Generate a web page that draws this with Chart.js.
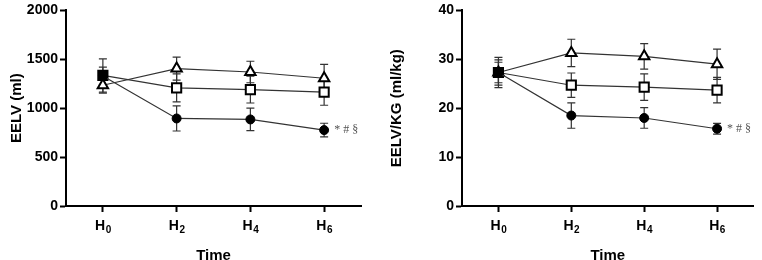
<!DOCTYPE html>
<html>
<head>
<meta charset="utf-8">
<script src="https://cdn.jsdelivr.net/npm/chart.js@4.4.1/dist/chart.umd.min.js"></script>
<style>
  html, body { margin: 0; padding: 0; background: #fff; }
  .wrap { position: relative; width: 762px; height: 260px; }
  #left { position: absolute; left: 0; top: 0; }
  #right { position: absolute; left: 380px; top: 0; }
</style>
</head>
<body>
<div class="wrap">
  <canvas id="left" width="380" height="260"></canvas>
  <canvas id="right" width="382" height="260"></canvas>
</div>
<script>
// time points, written as letter + subscript
const times = ["H0", "H2", "H4", "H6"];

// EELV (ml)
const eelvTriangle = [1235, 1405, 1370, 1306];
const eelvTriangleErr = [80, 118, 110, 143];
const eelvSquare = [1335, 1207, 1190, 1165];
const eelvSquareErr = [170, 143, 137, 135];
const eelvCircle = [1330, 895, 885, 776];
const eelvCircleErr = [90, 128, 115, 70];

// EELV/KG (ml/kg)
const kgTriangle = [27.3, 31.3, 30.6, 29.0];
const kgTriangleErr = [3.1, 2.8, 2.6, 3.1];
const kgSquare = [27.3, 24.7, 24.3, 23.7];
const kgSquareErr = [2.1, 2.5, 2.7, 2.6];
const kgCircle = [27.3, 18.5, 18.0, 15.8];
const kgCircleErr = [2.6, 2.6, 2.1, 1.1];

const marks = "* # \u00a7";

const errorBars = {
  id: "errorBars",
  beforeDatasetsDraw(chart) {
    const ctx = chart.ctx;
    const y = chart.scales.y;
    ctx.save();
    ctx.strokeStyle = "#333";
    ctx.lineWidth = 1.2;
    chart.data.datasets.forEach((ds, i) => {
      const meta = chart.getDatasetMeta(i);
      meta.data.forEach((pt, j) => {
        const e = ds.err[j];
        const top = y.getPixelForValue(ds.data[j] + e);
        const bot = y.getPixelForValue(ds.data[j] - e);
        ctx.beginPath();
        ctx.moveTo(pt.x, top); ctx.lineTo(pt.x, bot);
        ctx.moveTo(pt.x - 4, top); ctx.lineTo(pt.x + 4, top);
        ctx.moveTo(pt.x - 4, bot); ctx.lineTo(pt.x + 4, bot);
        ctx.stroke();
      });
    });
    ctx.restore();
  },
  afterDatasetsDraw(chart) {
    const ctx = chart.ctx;
    const meta = chart.getDatasetMeta(0);
    const pt = meta.data[meta.data.length - 1];
    ctx.save();
    ctx.fillStyle = "#555";
    ctx.font = "12px 'Liberation Serif'";
    ctx.textBaseline = "middle";
    ctx.fillText(marks, pt.x + 10, pt.y);
    ctx.restore();
  },
  afterDraw(chart) {
    // x tick labels with subscript digits
    const ctx = chart.ctx;
    const x = chart.scales.x;
    const base = x.top + 24;
    ctx.save();
    ctx.fillStyle = "#000";
    ctx.textBaseline = "alphabetic";
    chart.data.labels.forEach((lab, i) => {
      const px = x.getPixelForTick(i);
      ctx.font = "bold 14px 'Liberation Sans'";
      const w1 = ctx.measureText(lab[0]).width;
      ctx.font = "bold 10px 'Liberation Sans'";
      const w2 = ctx.measureText(lab.slice(1)).width;
      const left = px - (w1 + w2) / 2;
      ctx.font = "bold 14px 'Liberation Sans'";
      ctx.fillText(lab[0], left, base);
      ctx.font = "bold 10px 'Liberation Sans'";
      ctx.fillText(lab.slice(1), left + w1 + 0.5, base + 3);
    });
    ctx.restore();
  }
};

function makeChart(id, title, max, step, circ, circErr, sq, sqErr, tri, triErr, yWidth, padRight, padTop) {
  return new Chart(document.getElementById(id), {
    type: "line",
    data: {
      labels: times,
      datasets: [
        {
          data: circ, err: circErr,
          borderColor: "#333", borderWidth: 1.2,
          pointStyle: "circle", pointRadius: 4.5,
          pointBackgroundColor: "#000", pointBorderColor: "#000", pointBorderWidth: 1
        },
        {
          data: sq, err: sqErr,
          borderColor: "#333", borderWidth: 1.2,
          pointStyle: "rect", pointRadius: 6.5,
          pointBackgroundColor: ["#000", "#fff", "#fff", "#fff"],
          pointBorderColor: "#000", pointBorderWidth: 2
        },
        {
          data: tri, err: triErr,
          borderColor: "#333", borderWidth: 1.2,
          pointStyle: "triangle", pointRadius: 6,
          pointBackgroundColor: "#fff", pointBorderColor: "#000", pointBorderWidth: 2
        }
      ]
    },
    options: {
      responsive: false,
      animation: false,
      layout: { padding: { top: padTop, right: padRight, left: 4, bottom: 0 } },
      plugins: { legend: { display: false }, tooltip: { enabled: false } },
      scales: {
        x: {
          offset: true,
          afterFit(s) { s.height = 54; },
          border: { color: "#000", width: 2 },
          grid: { display: true, drawOnChartArea: false, tickLength: 6, tickWidth: 2, tickColor: "#000", offset: false },
          ticks: { color: "rgba(0,0,0,0)", font: { family: "Liberation Sans", weight: "bold", size: 14 }, padding: 3 },
          title: { display: true, text: "Time", color: "#000", font: { family: "Liberation Sans", weight: "bold", size: 15 }, padding: { top: 6, bottom: -5 } }
        },
        y: {
          min: 0, max: max,
          afterFit(s) { s.width = yWidth; },
          border: { color: "#000", width: 2 },
          grid: { display: true, drawOnChartArea: false, tickLength: 6, tickWidth: 2, tickColor: "#000" },
          ticks: { stepSize: step, color: "#000", callback: v => String(v), font: { family: "Liberation Sans", weight: "bold", size: 14 }, padding: 2 },
          title: { display: true, text: title, color: "#000", font: { family: "Liberation Sans", weight: "bold", size: 15 }, padding: { bottom: 4 } }
        }
      }
    },
    plugins: [errorBars]
  });
}

makeChart("left", "EELV (ml)", 2000, 500, eelvCircle, eelvCircleErr, eelvSquare, eelvSquareErr, eelvTriangle, eelvTriangleErr, 62, 19, 10);
makeChart("right", "EELV/KG (ml/kg)", 40, 10, kgCircle, kgCircleErr, kgSquare, kgSquareErr, kgTriangle, kgTriangleErr, 78, 0, 6);
</script>
</body>
</html>
